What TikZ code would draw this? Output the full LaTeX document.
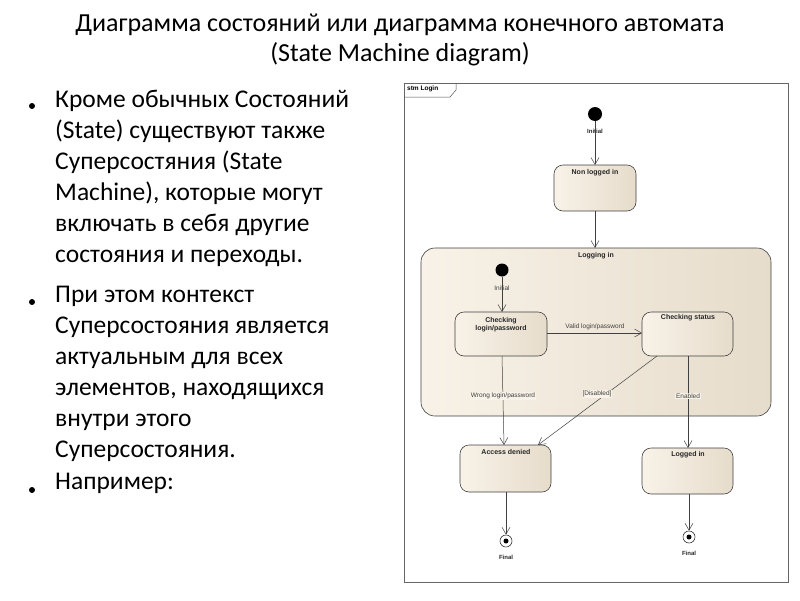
\documentclass[tikz,border=0pt]{standalone}
\usepackage{fontspec}
\setmainfont{Carlito}
\newfontfamily\dsans{Liberation Sans}
\usetikzlibrary{arrows.meta}
\definecolor{stL}{HTML}{F8F2E8}
\definecolor{stR}{HTML}{E6DCCB}
\begin{document}
\begin{tikzpicture}[x=1pt,y=-1pt,
 st/.style={draw=black!75,line width=0.6pt,rounded corners=9pt,left color=stL,right color=stR},
 lbl/.style={font=\dsans\fontsize{7}{8}\selectfont\bfseries,align=center,text=black!85},
 tl/.style={font=\dsans\fontsize{6.5}{7}\selectfont,text=black!75,fill=stL,inner sep=1pt},
 tr/.style={draw=black!75,line width=0.5pt,-{Straight Barb[length=7pt,width=8pt,line width=0.5pt]}},
 init/.style={circle,fill=black,inner sep=0pt,minimum size=14pt},
 fin/.style={circle,draw=black!80,fill=white,line width=0.6pt,inner sep=0pt,minimum size=12pt,path picture={\fill[black] (path picture bounding box.center) circle (2.5pt);}},
 body/.style={font=\fontsize{25.5}{31}\selectfont,align=left,anchor=north west,inner sep=0pt}]
\useasboundingbox (0,0) rectangle (800,600);
% title
\node[font=\fontsize{26}{30}\selectfont,align=center] (title) at (400,40) {Диаграмма состояний или диаграмма конечного автомата\\(State Machine diagram)};
% bullets
\node[body] (b1) at (55,90) {Кроме обычных Состояний\\(State) существуют также\\Суперсостяния (State\\Machine), которые могут\\включать в себя другие\\состояния и переходы.};
\node[body] (b2) at (55,286) {При этом контекст\\Суперсостояния является\\актуальным для всех\\элементов, находящихся\\внутри этого\\Суперсостояния.};
\node[body] (b3) at (55,473) {Например:};
\foreach \y in {106,302,490} \fill (32,\y) circle (3pt);
% frame
\draw[black!60,line width=0.8pt] (404,83) rectangle (788,582);
\draw[black!70,line width=0.5pt] (404,97) -- (450,97) -- (456,90) -- (456,83);
\node[font=\dsans\fontsize{6.5}{7}\selectfont\bfseries,anchor=west,inner sep=1pt] (ftab) at (406,89) {stm Login};
% states
\node[init] (i1) at (595,114) {};
\node[lbl,font=\dsans\fontsize{6}{7}\selectfont\bfseries] (i1l) at (595,131) {Initial};
\draw[st] (554,165) rectangle (636,211);
\node[lbl] (nli) at (595,173) {Non logged in};
\coordinate (nliT) at (595,165); \coordinate (nliB) at (595,211);
\draw[st,rounded corners=14pt] (421,248) rectangle (771,416);
\node[lbl] (logi) at (596,256) {Logging in};
\coordinate (logT) at (595,248);
\node[init,minimum size=13pt] (i2) at (502,270) {};
\node[tl,fill=none] (i2l) at (502,288) {Initial};
\draw[st] (455,312) rectangle (547,356);
\node[lbl] (clp) at (501,325) {Checking\\login/password};
\draw[st] (642,312) rectangle (733,356);
\node[lbl] (cs) at (688,318) {Checking status};
\draw[st] (460,445) rectangle (551,492);
\node[lbl] (ad) at (506,452) {Access denied};
\draw[st] (642,448) rectangle (733,494);
\node[lbl] (li) at (688,455) {Logged in};
\node[fin] (f1) at (506,541) {};
\node[lbl,font=\dsans\fontsize{6}{7}\selectfont\bfseries] (f1l) at (506,557) {Final};
\node[fin] (f2) at (689,537) {};
\node[lbl,font=\dsans\fontsize{6}{7}\selectfont\bfseries] (f2l) at (689,553) {Final};
% transitions
\draw[tr] (i1) -- (nliT);
\draw[tr] (nliB) -- (logT);
\draw[tr] (i2) -- (502,312);
\draw[tr] (547,333) -- (642,333);
\node[tl,fill=none] (vl) at (595,327) {Valid login/password};
\draw[tr] (502,356) -- (504,445);
\node[tl] (wl) at (503,396) {Wrong login/password};
\draw[tr] (657,356) -- (538,445);
\node[tl] (dl) at (597,394) {[Disabled]};
\draw[tr] (688,356) -- (688,448);
\node[tl] (el) at (688,396) {Enabled};
\draw[tr] (506,492) -- (f1);
\draw[tr] (689,494) -- (f2);
\end{tikzpicture}
\end{document}
